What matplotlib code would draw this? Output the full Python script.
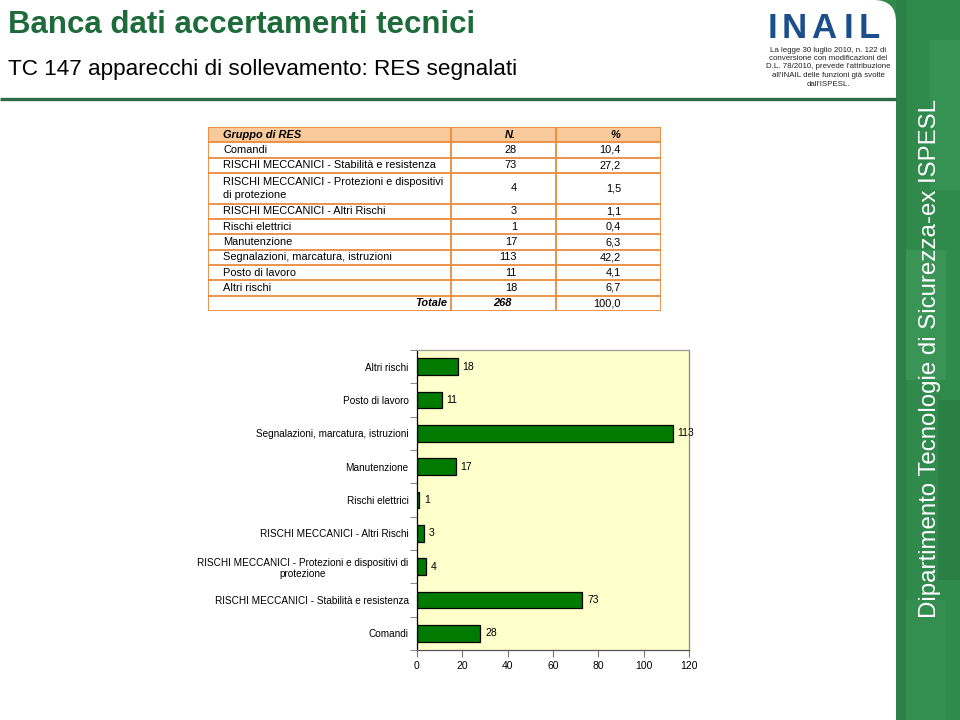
import matplotlib.pyplot as plt
from matplotlib.patches import Rectangle, FancyBboxPatch

plt.rcParams['font.family'] = ['Liberation Sans', 'DejaVu Sans']

# data
categorie = ['Comandi',
             'RISCHI MECCANICI - Stabilità e resistenza',
             'RISCHI MECCANICI - Protezioni e dispositivi di\nprotezione',
             'RISCHI MECCANICI - Altri Rischi',
             'Rischi elettrici',
             'Manutenzione',
             'Segnalazioni, marcatura, istruzioni',
             'Posto di lavoro',
             'Altri rischi']
righe_tabella = ['Comandi',
                 'RISCHI MECCANICI - Stabilità e resistenza',
                 'RISCHI MECCANICI - Protezioni e dispositivi\ndi protezione',
                 'RISCHI MECCANICI - Altri Rischi',
                 'Rischi elettrici',
                 'Manutenzione',
                 'Segnalazioni, marcatura, istruzioni',
                 'Posto di lavoro',
                 'Altri rischi']
numero = [28, 73, 4, 3, 1, 17, 113, 11, 18]
percentuale = ['10,4', '27,2', '1,5', '1,1', '0,4', '6,3', '42,2', '4,1', '6,7']
totale_n = 268
totale_perc = '100,0'
xticks = [0, 20, 40, 60, 80, 100, 120]

W, H = 960, 720
fig = plt.figure(figsize=(9.6, 7.2), dpi=100)

def box(x0, y0, x1, y1):
    # pixel box (top-left origin) -> figure rect
    return [x0 / W, 1 - y1 / H, (x1 - x0) / W, (y1 - y0) / H]

# background / slide decorations
bg = fig.add_axes([0, 0, 1, 1])
bg.set_xlim(0, W)
bg.set_ylim(H, 0)
bg.axis('off')

# right green strip
bg.add_patch(Rectangle((870, 0), 90, 60, color='#2f8a4c', lw=0))
bg.add_patch(Rectangle((896, 0), 64, H, color='#2f8a4c', lw=0))
bg.add_patch(Rectangle((896, 0), 10, H, color='#2b8047', lw=0))
bg.add_patch(Rectangle((930, 40), 30, 150, color='#369252', lw=0))
bg.add_patch(Rectangle((906, 250), 40, 130, color='#3a9456', lw=0))
bg.add_patch(Rectangle((938, 400), 22, 180, color='#2a7f45', lw=0))
bg.add_patch(Rectangle((906, 600), 40, 120, color='#338e4f', lw=0))
# white logo area with rounded corner
bg.add_patch(FancyBboxPatch((745, 0), 151, 300,
                            boxstyle='round,pad=0,rounding_size=22',
                            fc='white', ec='none'))
# header line
bg.plot([0, 896], [99, 99], color='#2d6a45', lw=2.4, solid_capstyle='butt')

bg.text(8, 25, 'Banca dati accertamenti tecnici', fontsize=22.5,
        fontweight='bold', color='#1e6b3a', va='center', ha='left')
bg.text(8, 69, 'TC 147 apparecchi di sollevamento: RES segnalati',
        fontsize=16.2, color='black', va='center', ha='left')

for lettera, xl in zip('INAIL', [772, 794, 824, 848, 869]):
    bg.text(xl, 29, lettera, fontsize=25, fontweight='heavy',
            color='#1b4f8c', va='center', ha='center')
nota = ("La legge 30 luglio 2010, n. 122 di\n"
        "conversione con modificazioni del\n"
        "D.L. 78/2010, prevede l'attribuzione\n"
        "all'INAIL delle funzioni già svolte\n"
        "dall'ISPESL.")
bg.text(828, 67, nota, fontsize=5.7, color='#222222', va='center',
        ha='center', multialignment='center', linespacing=1.3)

bg.text(930, 358, 'Dipartimento Tecnologie di Sicurezza-ex ISPESL',
        fontsize=17.3, color='white', rotation=90, va='center', ha='center')

# table
arancio = '#eb8a3c'
tab = fig.add_axes(box(208, 127, 661, 311))
tab.set_xlim(208, 661)
tab.set_ylim(311, 127)
tab.axis('off')
altezze = [1] + [2 if '\n' in r else 1 for r in righe_tabella] + [1]
unit = (311 - 127) / sum(altezze)
bordi = [127]
for a in altezze:
    bordi.append(bordi[-1] + a * unit)
tab.add_patch(Rectangle((208, bordi[0]), 453, bordi[1] - bordi[0],
                        fc='#f8c99a', ec='none'))
for y in bordi:
    tab.plot([208, 661], [y, y], color=arancio, lw=1.3)
for x in [208, 451, 556, 661]:
    tab.plot([x, x], [127, 311], color=arancio, lw=1.3)

def centro(i):
    return (bordi[i] + bordi[i + 1]) / 2

fs = 7.9
tab.text(223, centro(0), 'Gruppo di RES', fontsize=fs, fontweight='bold',
         style='italic', va='center')
tab.text(516, centro(0), 'N.', fontsize=fs, fontweight='bold',
         style='italic', va='center', ha='right')
tab.text(620, centro(0), '%', fontsize=fs, fontweight='bold',
         style='italic', va='center', ha='right')
for i, (r, n, p) in enumerate(zip(righe_tabella, numero, percentuale)):
    c = centro(i + 1)
    tab.text(223, c, r, fontsize=fs, va='center', linespacing=1.3)
    tab.text(517, c, str(n), fontsize=fs, va='center', ha='right')
    tab.text(621, c, p, fontsize=fs, va='center', ha='right')
c = centro(len(altezze) - 1)
tab.text(447, c, 'Totale', fontsize=fs, fontweight='bold', style='italic',
         va='center', ha='right')
tab.text(512, c, str(totale_n), fontsize=fs, fontweight='bold',
         style='italic', va='center', ha='right')
tab.text(621, c, totale_perc, fontsize=fs, va='center', ha='right')

# bar chart
ax = fig.add_axes(box(417, 350, 689, 650))
ax.set_facecolor('#ffffcc')
pos = list(range(len(categorie)))
ax.barh(pos, numero, height=0.5, color='#007a00', edgecolor='black', lw=0.9)
for p, v in zip(pos, numero):
    ax.text(v + 2, p, str(v), fontsize=7.5, va='center', ha='left')
ax.set_xlim(0, 120)
ax.set_ylim(-0.5, len(categorie) - 0.5)
ax.set_xticks(xticks)
ax.set_yticks(pos)
ax.set_yticklabels(categorie, fontsize=7.2)
for lab in ax.get_yticklabels():
    lab.set_multialignment('center')
ax.set_yticks([p - 0.5 for p in pos] + [len(pos) - 0.5], minor=True)
ax.tick_params(axis='y', which='major', length=0, pad=6)
ax.tick_params(axis='y', which='minor', length=5, color='#777777')
ax.tick_params(axis='x', length=5, color='#777777', labelsize=7.5, pad=3)
ax.spines['left'].set_color('black')
ax.spines['bottom'].set_color('#555555')
ax.spines['top'].set_color('#999999')
ax.spines['right'].set_color('#888888')
for s in ax.spines.values():
    s.set_linewidth(0.9)

fig.savefig('out.png', dpi=100)
